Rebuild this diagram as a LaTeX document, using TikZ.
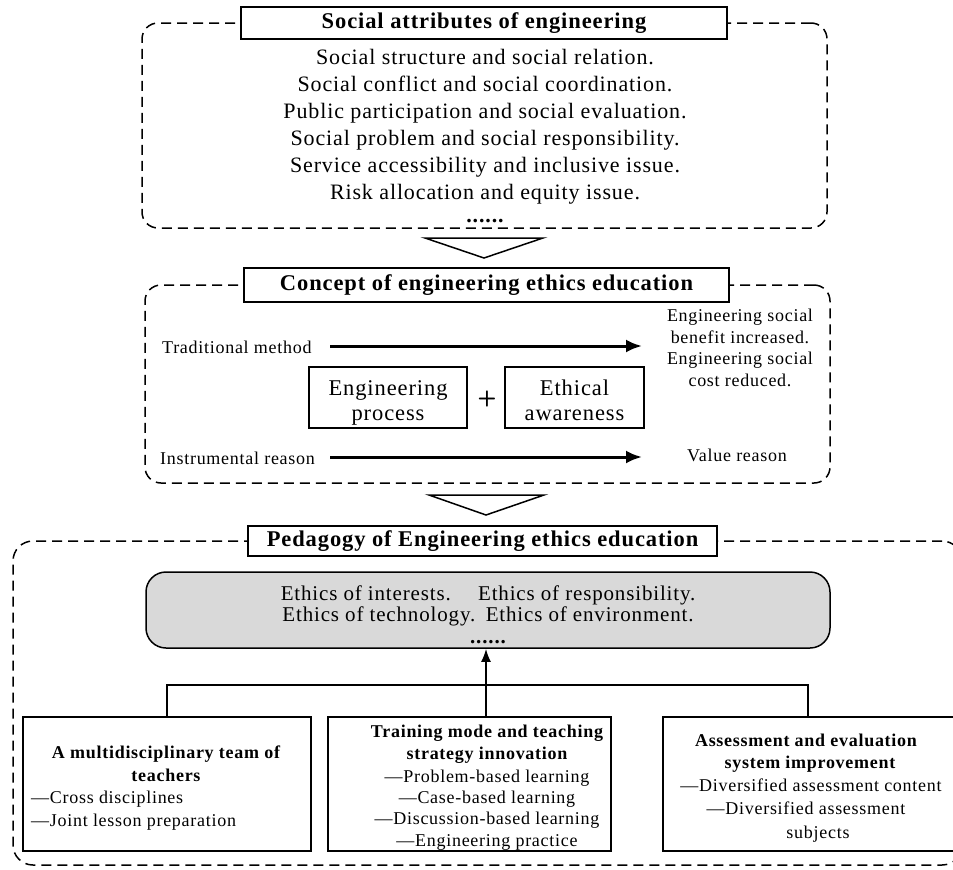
\documentclass[tikz,border=0pt]{standalone}
\usepackage{fontspec}
\setmainfont{Liberation Serif}[LetterSpace=4]
\usetikzlibrary{arrows.meta}
\definecolor{greyfill}{HTML}{D9D9D9}
\begin{document}
\begin{tikzpicture}[x=1pt,y=-1pt,
  solidbox/.style={draw=black, line width=1.5pt, fill=white, inner sep=0pt, outer sep=0pt},
  dashbox/.style={draw=black, line width=1.5pt, dash pattern=on 10pt off 6pt, inner sep=0pt, outer sep=0pt},
  ttl/.style={font=\fontsize{22.5}{27}\selectfont\bfseries},
  big/.style={font=\fontsize{22}{27}\selectfont, anchor=base, inner sep=0pt},
  eb/.style={font=\fontsize{22.5}{27}\selectfont, anchor=base, inner sep=0pt},
  gr/.style={font=\fontsize{21}{25}\selectfont, anchor=base, inner sep=0pt},
  sml/.style={font=\fontsize{18}{22}\selectfont, anchor=base, inner sep=0pt},
  bsml/.style={font=\fontsize{18}{22}\selectfont\bfseries, anchor=base, inner sep=0pt},
  arr/.style={line width=3pt, -{Latex[length=16pt,width=13pt]}},
  uparr/.style={line width=2pt, -{Latex[length=13pt,width=10pt]}},
  conn/.style={line width=2pt},
  tri/.style={draw=black, line width=1.5pt, fill=white, line join=miter}
]
\useasboundingbox (0,0) rectangle (953,870);

% ---------- section 1 ----------
\node[dashbox, rounded corners=16pt, minimum width=685pt, minimum height=205pt] (d1) at (484.5,125.5) {};
\node[solidbox, ttl, minimum width=486pt, minimum height=32pt] (t1) at (484,23) {Social attributes of engineering};
\foreach \t [count=\i] in {Social structure and social relation.,
  Social conflict and social coordination.,
  Public participation and social evaluation.,
  Social problem and social responsibility.,
  Service accessibility and inclusive issue.,
  Risk allocation and equity issue.}
  \node[big, name=s\i] at (485,{64+27*(\i-1)}) {\t};
\node[big, font=\fontsize{22}{27}\selectfont\bfseries] (s7) at (485,222) {......};

\coordinate (tr1) at (484,258);
\draw[tri] (425,238) -- (543,238) -- (tr1) -- cycle;

% ---------- section 2 ----------
\node[dashbox, rounded corners=16pt, minimum width=685pt, minimum height=198pt] (d2) at (487.5,384) {};
\node[solidbox, ttl, minimum width=485pt, minimum height=34pt] (t2) at (486.5,285) {Concept of engineering ethics education};

\node[sml, anchor=base west] (trad) at (162,353) {Traditional method};
\node[sml, anchor=base west] (instr) at (160,464) {Instrumental reason};
\coordinate (a1s) at (330,346);
\coordinate (a1e) at (642,346);
\coordinate (a2s) at (330,457);
\coordinate (a2e) at (642,457);
\draw[arr] (a1s) -- (a1e);
\draw[arr] (a2s) -- (a2e);

\node[solidbox, minimum width=158pt, minimum height=61pt] (ep) at (388,397.5) {};
\node[eb] (ep1) at (ep.center |- 0,395) {Engineering};
\node[eb] (ep2) at (ep.center |- 0,420) {process};
\node[font=\fontsize{22}{26}\selectfont\bfseries\sffamily, inner sep=0pt] (plus) at (487,399) {+};
\node[solidbox, minimum width=139pt, minimum height=61pt] (ea) at (574.5,397.5) {};
\node[eb] (ea1) at (ea.center |- 0,395) {Ethical};
\node[eb] (ea2) at (ea.center |- 0,420) {awareness};

\node[sml] (r1) at (740,321) {Engineering social};
\node[sml] (r2) at (740,343) {benefit increased.};
\node[sml] (r3) at (740,364) {Engineering social};
\node[sml] (r4) at (740,386) {cost reduced.};
\node[sml] (vr) at (737,461) {Value reason};

\coordinate (tr2) at (486,515);
\draw[tri] (429,495) -- (544,495) -- (tr2) -- cycle;

% ---------- section 3 ----------
\node[dashbox, rounded corners=20pt, minimum width=949pt, minimum height=324pt] (d3) at (487.5,703) {};
\node[solidbox, ttl, minimum width=469pt, minimum height=30pt] (t3) at (482.5,541) {Pedagogy of Engineering ethics education};

\node[draw=black, line width=1.5pt, fill=greyfill, rounded corners=20pt, inner sep=0pt, minimum width=684pt, minimum height=76pt] (grey) at (488,610) {};
\node[gr] (g1) at (488,600) {Ethics of interests.\hspace{1.3em}Ethics of responsibility.};
\node[gr] (g2) at (488,621) {Ethics of technology.\hspace{0.5em}Ethics of environment.};
\node[gr, font=\fontsize{21}{25}\selectfont\bfseries] (g3) at (488,643) {......};

\node[solidbox, minimum width=288pt, minimum height=134pt] (b1) at (167,784) {};
\node[solidbox, minimum width=283pt, minimum height=134pt] (b2) at (469.5,784) {};
\node[solidbox, minimum width=302pt, minimum height=134pt] (b3) at (814,784) {};

\coordinate (up) at (486,717);
\coordinate (bar) at (486,685);
\coordinate (barR) at (808,685);
\draw[uparr] (up) -- (up |- grey.south);
\draw[conn] (b1.north) -- (b1.north |- bar) -- (barR) -- (barR |- b3.north);

\node[bsml] (b1a) at (166,758) {A multidisciplinary team of};
\node[bsml] (b1b) at (166,781) {teachers};
\node[sml, anchor=base west] (b1c) at (31,803) {—Cross disciplines};
\node[sml, anchor=base west] (b1d) at (31,826) {—Joint lesson preparation};

\node[bsml] (b2a) at (487,737) {Training mode and teaching};
\node[bsml] (b2b) at (487,759) {strategy innovation};
\node[sml] (b2c) at (487,782) {—Problem-based learning};
\node[sml] (b2d) at (487,803) {—Case-based learning};
\node[sml] (b2e) at (487,824) {—Discussion-based learning};
\node[sml] (b2f) at (487,846) {—Engineering practice};

\node[bsml] (b3a) at (806,746) {Assessment and evaluation};
\node[bsml] (b3b) at (810,768) {system improvement};
\node[sml] (b3c) at (811,791) {—Diversified assessment content};
\node[sml] (b3d) at (806,814) {—Diversified assessment};
\node[sml] (b3e) at (818,838) {subjects};
\end{tikzpicture}
\end{document}
